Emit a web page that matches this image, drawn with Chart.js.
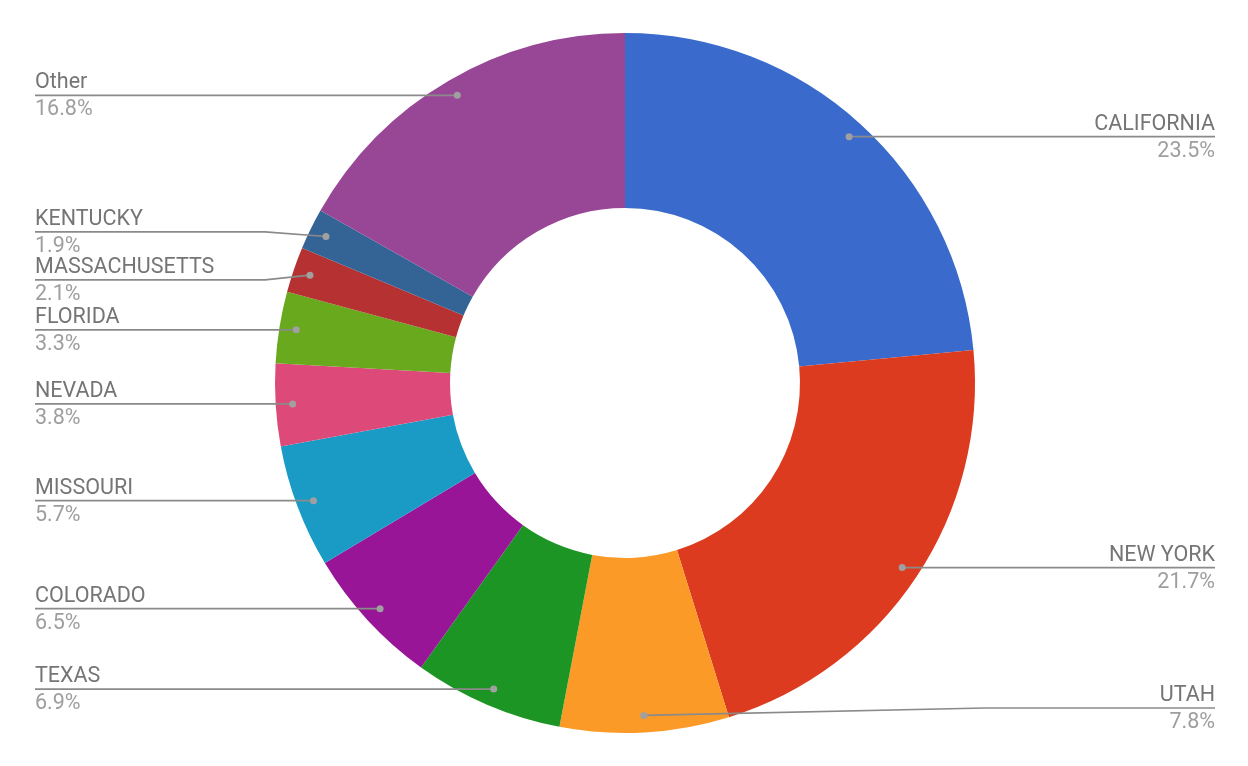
<!DOCTYPE html>
<html>
<head>
<meta charset="utf-8">
<script src="https://cdn.jsdelivr.net/npm/chart.js@4"></script>
<style>
  body { margin: 0; background: #fff; }
  canvas { display: block; }
</style>
</head>
<body>
<canvas id="myChart" width="1248" height="766"></canvas>
<script>
const labels = ["CALIFORNIA", "NEW YORK", "UTAH", "TEXAS", "COLORADO", "MISSOURI", "NEVADA", "FLORIDA", "MASSACHUSETTS", "KENTUCKY", "Other"];
const shares = [23.5, 21.7, 7.8, 6.9, 6.5, 5.7, 3.8, 3.3, 2.1, 1.9, 16.8];
const colors = ["#3a6bcc", "#dc3b1f", "#fc9a28", "#1d9524", "#981597", "#1a9bc6", "#dd4a7a", "#69a91e", "#b63232", "#346496", "#984796"];

// labels with leader lines, the way the original draws them
const leaderLabels = {
  id: "leaderLabels",
  afterDraw(chart) {
    const c = chart.ctx;
    const arcs = chart.getDatasetMeta(0).data;
    const W = chart.width, H = chart.height;
    const items = arcs.map((arc, i) => {
      const p = arc.getProps(["x", "y", "startAngle", "endAngle", "outerRadius"], true);
      const mid = (p.startAngle + p.endAngle) / 2;
      const r = p.outerRadius - 17;
      const dx = p.x + Math.cos(mid) * r;
      const dy = p.y + Math.sin(mid) * r;
      return { i, dx, dy, ly: dy, right: Math.cos(mid) >= 0, cx: p.x, R: p.outerRadius };
    });

    // push apart labels that sit too close on the same side
    [true, false].forEach(side => {
      const list = items.filter(it => it.right === side).sort((a, b) => a.ly - b.ly);
      for (let pass = 0; pass < 20; pass++) {
        for (let k = 1; k < list.length; k++) {
          const gap = list[k].ly - list[k - 1].ly;
          if (gap < 48) {
            const d = (48 - gap) / 2;
            list[k - 1].ly -= d;
            list[k].ly += d;
          }
        }
        list.forEach(it => { it.ly = Math.min(it.ly, H - 58); it.ly = Math.max(it.ly, 40); });
      }
    });

    c.save();
    items.forEach(it => {
      const edgeX = it.right ? W - 33 : 35;
      const bendX = it.right ? it.cx + it.R + 10 : it.cx - it.R - 10;
      c.strokeStyle = "#8a8a8a";
      c.lineWidth = 1.7;
      c.beginPath();
      c.moveTo(it.dx, it.dy);
      c.lineTo(bendX, it.ly);
      c.lineTo(edgeX, it.ly);
      c.stroke();

      c.fillStyle = "#a0a0a0";
      c.beginPath();
      c.arc(it.dx, it.dy, 3.5, 0, Math.PI * 2);
      c.fill();

      c.textAlign = it.right ? "right" : "left";
      c.textBaseline = "alphabetic";
      c.font = "21.5px Roboto";
      c.fillStyle = "#757575";
      c.fillText(labels[it.i], edgeX, it.ly - 7);
      c.fillStyle = "#9e9e9e";
      c.fillText(shares[it.i].toFixed(1) + "%", edgeX, it.ly + 20);
    });
    c.restore();
  }
};

const ctx = document.getElementById("myChart");
const myChart = new Chart(ctx, {
  type: "doughnut",
  data: {
    labels: labels,
    datasets: [
      {
        data: shares,
        backgroundColor: colors,
        borderWidth: 0,
      },
    ],
  },
  options: {
    responsive: false,
    animation: false,
    cutout: "50%",
    layout: { padding: { top: 33, bottom: 33, left: 2, right: 0 } },
    plugins: {
      legend: { display: false },
      tooltip: { enabled: false },
    },
  },
  plugins: [leaderLabels],
});
</script>
</body>
</html>
